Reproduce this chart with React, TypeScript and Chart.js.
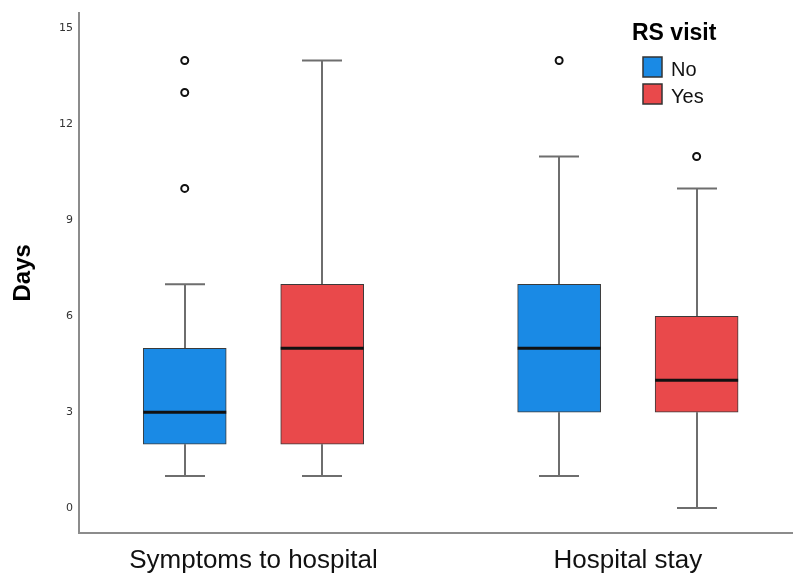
import React, { useEffect, useRef } from 'react';
import { Chart, registerables } from 'chart.js';

Chart.register(...registerables);

// ---- data ----
const categories = ['Symptoms to hospital', 'Hospital stay'];
const seriesNames = ['No', 'Yes'];
const yTicks = [0, 3, 6, 9, 12, 15];

const noMin = [1, 1];
const noQ1 = [2, 3];
const noMedian = [3, 5];
const noQ3 = [5, 7];
const noMax = [7, 11];
const noOutliers = [[10, 13, 14], [14]];

const yesMin = [1, 0];
const yesQ1 = [2, 3];
const yesMedian = [5, 4];
const yesQ3 = [7, 6];
const yesMax = [14, 10];
const yesOutliers = [[], [11]];

// ---- layout / style ----
const SERIES_SHIFT = 0.1836;
const BOX_PX = 83;
const CAP_PX = 40;
const COLORS = ['#1a8ae5', '#e9494b'];
const FONT = "'Liberation Sans', Arial, sans-serif";

const xOf = (g: number, s: number) => g + 1 + (s === 0 ? -SERIES_SHIFT : SERIES_SHIFT);

const stats = [
  { min: noMin, q1: noQ1, med: noMedian, q3: noQ3, max: noMax, out: noOutliers },
  { min: yesMin, q1: yesQ1, med: yesMedian, q3: yesQ3, max: yesMax, out: yesOutliers },
];

const boxPlugin = {
  id: 'boxParts',
  beforeDatasetsDraw(chart: any) {
    const ctx = chart.ctx;
    const xs = chart.scales.x;
    const ys = chart.scales.y;
    ctx.save();
    ctx.strokeStyle = '#6e6e6e';
    ctx.lineWidth = 2;
    stats.forEach((st, s) => {
      categories.forEach((_, g) => {
        const cx = Math.round(xs.getPixelForValue(xOf(g, s)));
        const pMax = ys.getPixelForValue(st.max[g]);
        const pQ3 = ys.getPixelForValue(st.q3[g]);
        const pMin = ys.getPixelForValue(st.min[g]);
        const pQ1 = ys.getPixelForValue(st.q1[g]);
        ctx.beginPath();
        ctx.moveTo(cx, pMax);
        ctx.lineTo(cx, pQ3);
        ctx.moveTo(cx, pQ1);
        ctx.lineTo(cx, pMin);
        ctx.moveTo(cx - CAP_PX / 2, pMax);
        ctx.lineTo(cx + CAP_PX / 2, pMax);
        ctx.moveTo(cx - CAP_PX / 2, pMin);
        ctx.lineTo(cx + CAP_PX / 2, pMin);
        ctx.stroke();
      });
    });
    ctx.restore();
  },
  afterDatasetsDraw(chart: any) {
    const ctx = chart.ctx;
    const xs = chart.scales.x;
    const ys = chart.scales.y;
    ctx.save();
    ctx.strokeStyle = '#111';
    ctx.lineWidth = 3;
    stats.forEach((st, s) => {
      categories.forEach((_, g) => {
        const cx = xs.getPixelForValue(xOf(g, s));
        const pm = ys.getPixelForValue(st.med[g]);
        ctx.beginPath();
        ctx.moveTo(cx - BOX_PX / 2, pm);
        ctx.lineTo(cx + BOX_PX / 2, pm);
        ctx.stroke();
      });
    });
    ctx.restore();
  },
  afterDraw(chart: any) {
    const ctx = chart.ctx;
    ctx.save();
    ctx.fillStyle = '#000';
    ctx.textBaseline = 'alphabetic';
    ctx.textAlign = 'left';
    ctx.font = `bold 23px ${FONT}`;
    ctx.fillText('RS visit', 632, 40);
    ctx.font = `20px ${FONT}`;
    seriesNames.forEach((name, i) => {
      const y = 57 + i * 27;
      ctx.fillStyle = COLORS[i];
      ctx.fillRect(643, y, 19, 20);
      ctx.strokeStyle = '#333';
      ctx.lineWidth = 1.5;
      ctx.strokeRect(643, y, 19, 20);
      ctx.fillStyle = '#111';
      ctx.fillText(name, 671, y + 19);
    });
    ctx.restore();
  },
};

export default function App() {
  const ref = useRef<HTMLCanvasElement>(null);

  useEffect(() => {
    if (!ref.current) return;
    const boxDatasets = stats.map((st, s) => ({
      type: 'bar' as const,
      label: seriesNames[s],
      data: categories.map((_, g) => ({ x: xOf(g, s), y: [st.q1[g], st.q3[g]] })),
      backgroundColor: COLORS[s],
      borderColor: '#3a3a3a',
      borderWidth: 1,
      borderSkipped: false,
      barThickness: BOX_PX,
      grouped: false,
      order: 2,
    }));
    const outlierData: { x: number; y: number }[] = [];
    stats.forEach((st, s) =>
      st.out.forEach((vals, g) => vals.forEach((v) => outlierData.push({ x: xOf(g, s), y: v })))
    );
    const chart = new Chart(ref.current, {
      type: 'bar',
      data: {
        datasets: [
          ...boxDatasets,
          {
            type: 'scatter' as const,
            label: 'outliers',
            data: outlierData,
            pointRadius: 3.5,
            pointBorderWidth: 2,
            pointBorderColor: '#111',
            pointBackgroundColor: '#fff',
            order: 1,
          } as any,
        ],
      },
      options: {
        animation: false,
        responsive: true,
        maintainAspectRatio: false,
        layout: { autoPadding: false, padding: { top: 12, right: 0, left: 0, bottom: 0 } },
        plugins: { legend: { display: false }, tooltip: { enabled: false } },
        scales: {
          x: {
            type: 'linear',
            min: 0.534,
            max: 2.441,
            offset: false,
            grid: { display: false, drawTicks: false },
            border: { display: true, color: '#8c8c8c', width: 2 },
            afterBuildTicks: (axis: any) => {
              axis.ticks = categories.map((_, i) => ({ value: i + 1 }));
            },
            afterFit: (scale: any) => {
              scale.height = 40;
            },
            ticks: {
              autoSkip: false,
              maxRotation: 0,
              padding: 12,
              color: '#111',
              font: { family: FONT, size: 26 },
              callback: (v: any) => categories[Math.round(v) - 1] ?? '',
            },
          },
          y: {
            type: 'linear',
            min: -0.78,
            max: 15.5,
            grid: { display: false, drawTicks: false },
            border: { display: true, color: '#8c8c8c', width: 2 },
            afterBuildTicks: (axis: any) => {
              axis.ticks = yTicks.map((v) => ({ value: v }));
            },
            afterFit: (scale: any) => {
              scale.width = 79;
            },
            ticks: {
              padding: 6,
              color: '#333',
              font: { family: "'DejaVu Sans', sans-serif", size: 11 },
              callback: (v: any) => String(v),
            },
            title: {
              display: true,
              text: 'Days',
              color: '#000',
              padding: { top: 9, bottom: 0 },
              font: { family: FONT, size: 24, weight: 'bold' },
            },
          },
        },
      } as any,
      plugins: [boxPlugin],
    });
    return () => chart.destroy();
  }, []);

  return (
    <div style={{ position: 'fixed', left: 0, top: 0, width: 793, height: 573, background: '#fff' }}>
      <canvas ref={ref} />
    </div>
  );
}
